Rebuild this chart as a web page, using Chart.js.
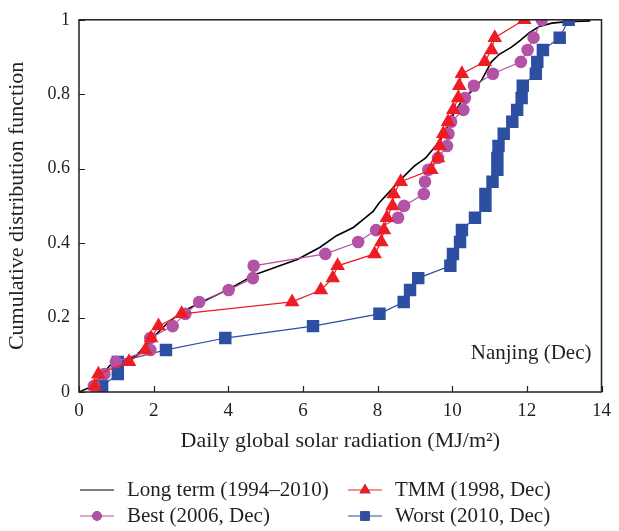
<!DOCTYPE html>
<html>
<head>
<meta charset="utf-8">
<script src="https://cdn.jsdelivr.net/npm/chart.js@4.4.1/dist/chart.umd.min.js"></script>
<style>
	html, body { margin: 0; padding: 0; background: #fff; }
</style>
</head>
<body>
<canvas id="cdf" width="619" height="531"></canvas>
<script>
// values

// cumulative probability of each of the 31 December days
const cdfLevels = [0.016, 0.048, 0.081, 0.113, 0.145, 0.177, 0.21, 0.242, 0.274, 0.306,
	0.339, 0.371, 0.403, 0.435, 0.468, 0.5, 0.532, 0.565, 0.597, 0.629,
	0.661, 0.694, 0.726, 0.758, 0.79, 0.823, 0.855, 0.887, 0.919, 0.952, 1];

const tmmValues = [0.42, 0.52, 1.34, 1.78, 1.93, 2.13, 2.75, 5.71, 6.48, 6.80,
	6.93, 7.92, 8.10, 8.17, 8.25, 8.40, 8.43, 8.62, 9.44, 9.62,
	9.66, 9.76, 9.89, 10.03, 10.16, 10.19, 10.26, 10.87, 11.05, 11.14, 11.93];

const bestValues = [0.40, 0.68, 0.99, 1.91, 1.91, 2.51, 2.85, 3.22, 4.01, 4.66,
	4.68, 6.60, 7.48, 7.96, 8.55, 8.71, 9.24, 9.27, 9.36, 9.62,
	9.86, 9.90, 9.97, 10.30, 10.34, 10.58, 11.09, 11.84, 12.02, 12.18, 12.40];

const worstValues = [0.62, 1.04, 1.04, 2.33, 3.92, 6.27, 8.05, 8.70, 8.87, 9.09,
	9.95, 10.02, 10.21, 10.26, 10.61, 10.89, 10.89, 11.08, 11.21, 11.21,
	11.24, 11.38, 11.61, 11.74, 11.86, 11.89, 12.24, 12.28, 12.43, 12.88, 13.12];

// long term curve (1994-2010)
const longTermX = [0, 0.42, 0.82, 1.53, 1.88, 2.33, 2.75, 3.28, 3.99, 4.71,
	5.32, 5.85, 6.46, 6.90, 7.35, 7.61, 7.88, 8.04, 8.31, 8.67,
	8.98, 9.29, 9.55, 9.81, 10.03, 10.26, 10.52, 10.79, 11.05, 11.27,
	11.58, 11.84, 12.06, 12.33, 12.67, 13.08, 13.70];
const longTermY = [0, 0.018, 0.071, 0.097, 0.136, 0.181, 0.215, 0.241, 0.275, 0.315,
	0.337, 0.356, 0.389, 0.420, 0.442, 0.463, 0.485, 0.508, 0.537, 0.576,
	0.607, 0.629, 0.660, 0.696, 0.746, 0.783, 0.808, 0.838, 0.887, 0.908,
	0.926, 0.946, 0.965, 0.982, 0.991, 0.995, 0.997];

const seriesLabels = ['Long term (1994\u20132010)', 'TMM (1998, Dec)', 'Best (2006, Dec)', 'Worst (2010, Dec)'];
const xTitle = 'Daily global solar radiation (MJ/m\u00b2)';
const yTitle = 'Cumulative distribution function';
const noteText = 'Nanjing (Dec)';

const serif = "'Liberation Serif', 'DejaVu Serif', serif";
const inkColor = '#231f20';

const toPoints = (xs, ys) => xs.map((x, i) => ({x: x, y: ys[i]}));


// frame, inward ticks, note and legend
const framePlugin = {
	id: 'frame',
	afterDraw(chart) {
		const {ctx, chartArea: a, scales} = chart;
		ctx.save();
		ctx.strokeStyle = inkColor;
		ctx.lineWidth = 1.5;
		ctx.strokeRect(a.left, a.top, a.right - a.left, a.bottom - a.top);

		ctx.lineWidth = 1.2;
		ctx.beginPath();
		scales.x.ticks.forEach(t => {
			const px = Math.round(scales.x.getPixelForValue(t.value)) + 0.5;
			ctx.moveTo(px, a.bottom);
			ctx.lineTo(px, a.bottom - 6);
		});
		scales.y.ticks.forEach(t => {
			const py = Math.round(scales.y.getPixelForValue(t.value)) + 0.5;
			ctx.moveTo(a.left, py);
			ctx.lineTo(a.left + 6, py);
		});
		ctx.stroke();

		ctx.fillStyle = inkColor;
		ctx.font = '21px ' + serif;
		ctx.textAlign = 'right';
		ctx.textBaseline = 'middle';
		ctx.fillText(noteText, a.right - 10, a.bottom - 39);

		// legend, two columns
		const colX = [80, 348];
		const rowY = [490, 516];
		chart.data.datasets.forEach((ds, i) => {
			const x0 = colX[i % 2];
			const y0 = rowY[Math.floor(i / 2)];
			ctx.strokeStyle = ds.borderColor;
			ctx.lineWidth = 1.2;
			ctx.beginPath();
			ctx.moveTo(x0, y0);
			ctx.lineTo(x0 + 34, y0);
			ctx.stroke();
			if (ds.pointRadius > 0) {
				Chart.helpers.drawPoint(ctx, {
					pointStyle: ds.pointStyle,
					radius: ds.pointRadius * 0.75,
					borderWidth: 0,
					rotation: 0
				}, x0 + 17, y0);
				ctx.fillStyle = ds.pointBackgroundColor;
				ctx.fill();
			}
			ctx.fillStyle = inkColor;
			ctx.font = '21px ' + serif;
			ctx.textAlign = 'left';
			ctx.fillText(ds.label, x0 + 47, y0);
		});
		ctx.restore();
	}
};


document.addEventListener('DOMContentLoaded', () => {
	const canvas = document.getElementById('cdf');

	new Chart(canvas, {
		type: 'scatter',
		data: {
			datasets: [{
					label: seriesLabels[0],
					data: toPoints(longTermX, longTermY),
					showLine: true,
					borderColor: '#000000',
					borderWidth: 1.6,
					pointRadius: 0,
					order: 3
				},
				{
					label: seriesLabels[1],
					data: toPoints(tmmValues, cdfLevels),
					showLine: true,
					borderColor: '#ee1d23',
					borderWidth: 1.2,
					pointStyle: 'triangle',
					pointRadius: 8.5,
					pointBackgroundColor: '#ee1d23',
					pointBorderWidth: 0,
					order: 0
				},
				{
					label: seriesLabels[2],
					data: toPoints(bestValues, cdfLevels),
					showLine: true,
					borderColor: '#b353a6',
					borderWidth: 1.2,
					pointStyle: 'circle',
					pointRadius: 6.3,
					pointBackgroundColor: '#b353a6',
					pointBorderWidth: 0,
					order: 1
				},
				{
					label: seriesLabels[3],
					data: toPoints(worstValues, cdfLevels),
					showLine: true,
					borderColor: '#2d4fa2',
					borderWidth: 1.2,
					pointStyle: 'rect',
					pointRadius: 8.8,
					pointBackgroundColor: '#2d4fa2',
					pointBorderWidth: 0,
					order: 2
				}
			]
		},
		options: {
			responsive: false,
			animation: false,
			layout: {
				padding: {left: 0, right: 11, top: 10, bottom: 76}
			},
			scales: {
				x: {
					type: 'linear',
					min: 0,
					max: 14,
					grid: {display: false, drawTicks: false},
					border: {display: false},
					ticks: {
						stepSize: 2,
						padding: 8,
						color: inkColor,
						font: {family: serif, size: 19}
					},
					title: {
						display: true,
						text: xTitle,
						color: inkColor,
						font: {family: serif, size: 22},
						padding: {top: 0, bottom: 1}
					},
					afterFit: (scale) => { scale.height = 63; }
				},
				y: {
					type: 'linear',
					min: 0,
					max: 1,
					grid: {display: false, drawTicks: false},
					border: {display: false},
					ticks: {
						stepSize: 0.2,
						padding: 9,
						color: inkColor,
						font: {family: serif, size: 18},
						callback: (v) => String(Number(v.toFixed(1)))
					},
					title: {
						display: true,
						text: yTitle,
						color: inkColor,
						font: {family: serif, size: 22},
						padding: {top: 4, bottom: 0}
					},
					afterFit: (scale) => { scale.width = 79; }
				}
			},
			plugins: {
				legend: {display: false},
				tooltip: {enabled: false}
			}
		},
		plugins: [framePlugin]
	});
});
</script>
</body>
</html>
